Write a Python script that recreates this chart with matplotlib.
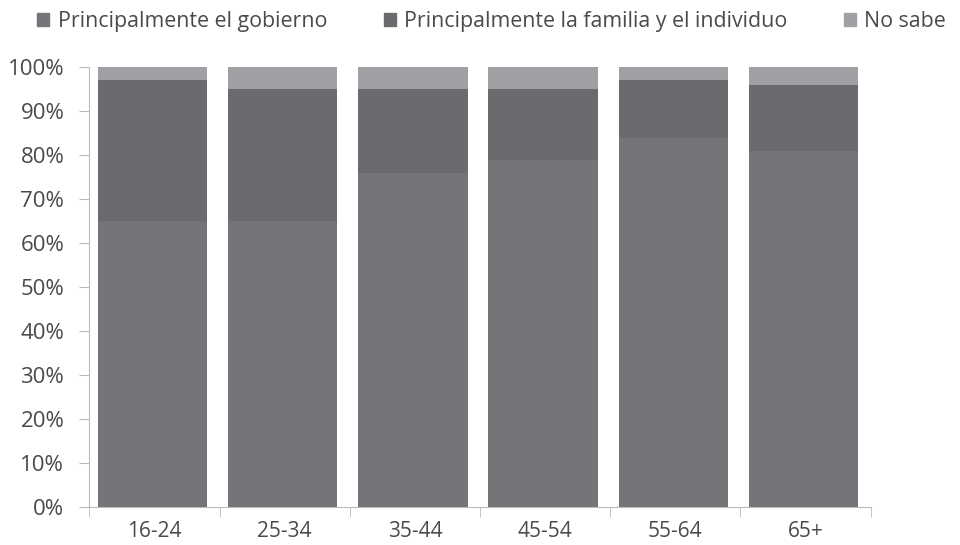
import matplotlib.pyplot as plt
import numpy as np
from matplotlib.patches import Patch
from matplotlib.ticker import FixedLocator, PercentFormatter

# age groups and response shares (%)
grupos = ['16-24', '25-34', '35-44', '45-54', '55-64', '65+']
gobierno = [65, 65, 76, 79, 84, 81]
familia = [32, 30, 19, 16, 13, 15]
no_sabe = [3, 5, 5, 5, 3, 4]

series = ['Principalmente el gobierno', 'Principalmente la familia y el individuo', 'No sabe']
colores = ['#747579', '#6a6b6f', '#a0a0a4']

plt.rcParams['font.family'] = ['Open Sans', 'DejaVu Sans']

fig = plt.figure(figsize=(9.6, 5.45), dpi=100)
ax = fig.add_axes([0.093, 0.0697, 0.814, 0.807])

x = np.arange(len(grupos))
base = np.zeros(len(grupos))
for vals, col, name in zip([gobierno, familia, no_sabe], colores, series):
    ax.bar(x - 0.015, vals, bottom=base, width=0.84, color=col, label=name, linewidth=0)
    base += np.array(vals)

ax.set_xlim(-0.5, len(grupos) - 0.5)
ax.set_ylim(0, 100)
ax.set_yticks(np.arange(0, 101, 10))
ax.yaxis.set_major_formatter(PercentFormatter(decimals=0))
ax.set_xticks(x)
ax.set_xticklabels(grupos)
ax.xaxis.set_minor_locator(FixedLocator(np.arange(-0.5, len(grupos), 1)))
ax.tick_params(axis='x', which='major', length=0, pad=10, labelsize=15, labelcolor='#4a4a4a')
ax.tick_params(axis='x', which='minor', length=7, color='#bbbbbb')
ax.tick_params(axis='y', length=7, pad=11, color='#bbbbbb', labelsize=16, labelcolor='#4a4a4a')

for side in ['top', 'right']:
    ax.spines[side].set_visible(False)
for side in ['left', 'bottom']:
    ax.spines[side].set_color('#bbbbbb')

handles = [Patch(color=c) for c in colores]
fig.legend(handles, series, loc='upper left', bbox_to_anchor=(0.019, 1.015), ncol=3,
           frameon=False, fontsize=15.4, handlelength=0.55, handleheight=0.55,
           handletextpad=0.4, columnspacing=2.65, labelcolor='#4a4a4a')

fig.savefig('out.png', dpi=100)
